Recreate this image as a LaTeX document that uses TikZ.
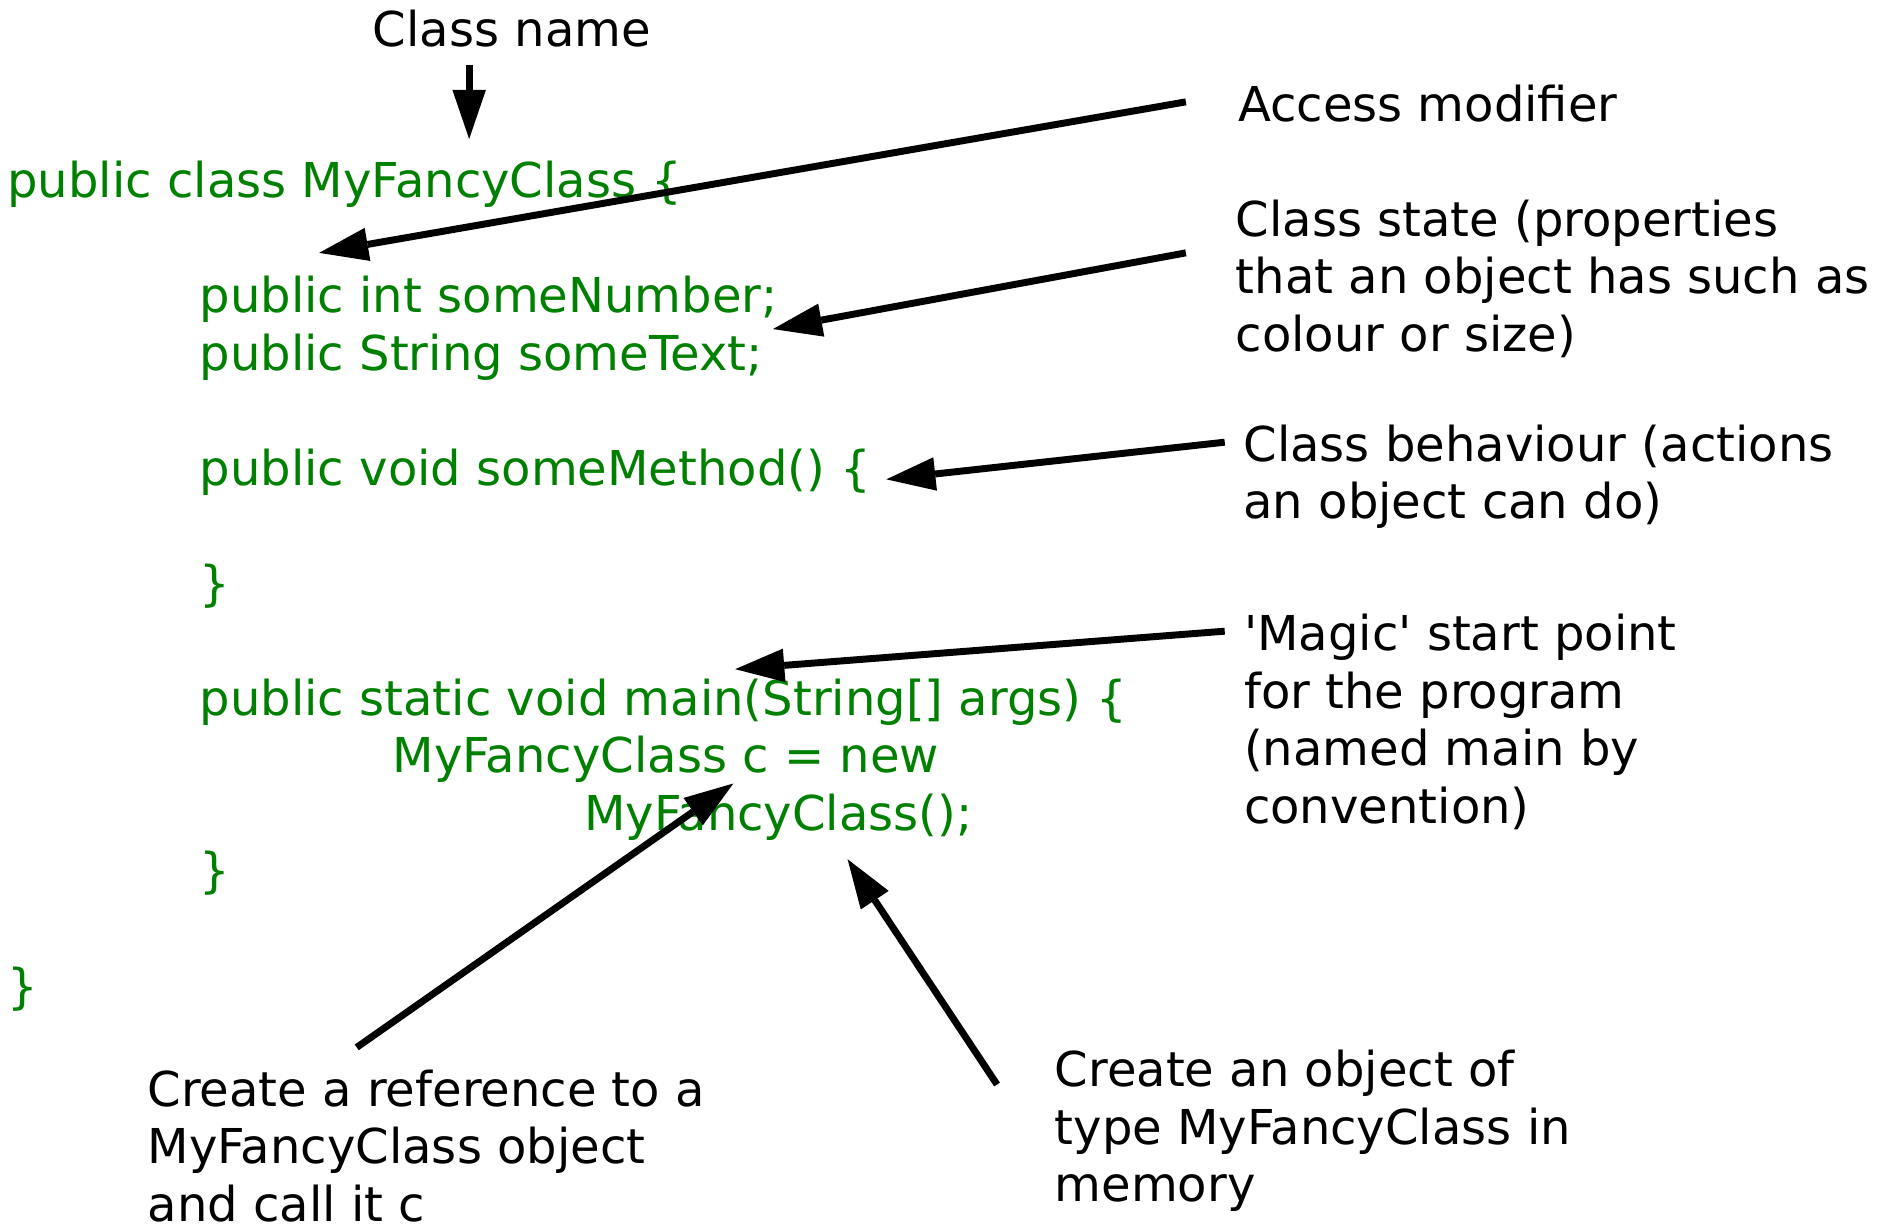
\documentclass[tikz,border=0pt]{standalone}
\usepackage{fontspec}
\setmainfont{DejaVu Sans}
\usetikzlibrary{arrows.meta}
\definecolor{codegreen}{RGB}{0,128,0}
\begin{document}
\begin{tikzpicture}[x=1pt,y=-1pt,
  code/.style={anchor=base west, inner sep=0pt, text=codegreen, font=\fontsize{40.1}{48}\selectfont},
  note/.style={anchor=base west, inner sep=0pt, font=\fontsize{40.1}{48}\selectfont},
  pointer/.style={line width=5.8pt, -{Triangle[length=41pt,width=28pt,line width=0pt]}}]
\useasboundingbox (0,0) rectangle (1568,1021);
% code
\node[code] (l1) at (6,165) {public class MyFancyClass \{};
\node[code] (l2) at (166.5,261) {public int someNumber;};
\node[code] (l3) at (166.5,309) {public String someText;};
\node[code] (l4) at (166.5,405) {public void someMethod() \{};
\node[code] (l5) at (166.5,501) {\}};
\node[code] (l6) at (166.5,597) {public static void main(String[] args) \{};
\node[code] (l7) at (327.5,645) {MyFancyClass c = new};
\node[code] (l8) at (487.5,693) {MyFancyClass();};
\node[code] (l9) at (166.5,741) {\}};
\node[code] (l10) at (6,837) {\}};
% notes
\node[note] (classname) at (311,39) {Class name};
\node[note] (access) at (1033,101.5) {Access modifier};
\node[note] (state) at (1031,197) {\begin{tabular}[t]{@{}l@{}}Class state (properties\\that an object has such as\\colour or size)\end{tabular}};
\node[note] (behav) at (1037.5,385) {\begin{tabular}[t]{@{}l@{}}Class behaviour (actions\\an object can do)\end{tabular}};
\node[note] (magic) at (1038,543) {\begin{tabular}[t]{@{}l@{}}\textquotesingle Magic\textquotesingle{} start point\\for the program\\(named main by\\convention)\end{tabular}};
\node[note] (ref) at (123,923) {\begin{tabular}[t]{@{}l@{}}Create a reference to a\\MyFancyClass object\\and call it c\end{tabular}};
\node[note] (obj) at (880,907) {\begin{tabular}[t]{@{}l@{}}Create an object of\\type MyFancyClass in\\memory\end{tabular}};
% arrow ends
\coordinate (cnT) at (391.5,54);   \coordinate (cnH) at (391.5,116);
\coordinate (acT) at (989.6,85);   \coordinate (acH) at (266.3,211);
\coordinate (stT) at (989.6,211);  \coordinate (stH) at (645,274.6);
\coordinate (bhT) at (1022,369);   \coordinate (bhH) at (739.6,400);
\coordinate (mgT) at (1022,526.7); \coordinate (mgH) at (613.5,558.4);
\coordinate (rfT) at (297.7,874);  \coordinate (rfH) at (612,653.8);
\coordinate (obT) at (832,905);    \coordinate (obH) at (707.3,717);
\draw[pointer] (cnT) -- (cnH);
\draw[pointer] (acT) -- (acH);
\draw[pointer] (stT) -- (stH);
\draw[pointer] (bhT) -- (bhH);
\draw[pointer] (mgT) -- (mgH);
\draw[pointer] (rfT) -- (rfH);
\draw[pointer] (obT) -- (obH);
\end{tikzpicture}
\end{document}
